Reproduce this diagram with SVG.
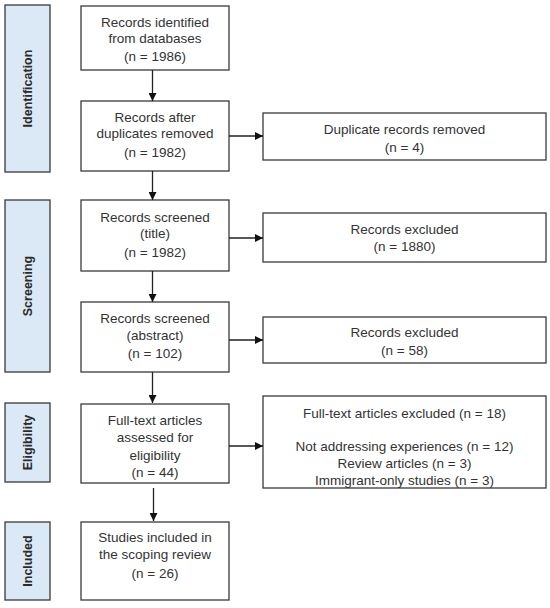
<svg xmlns="http://www.w3.org/2000/svg" width="550" height="608" viewBox="0 0 550 608">
<style>
.bg{fill:#ffffff}
.band{fill:#dbe9f7;stroke:#3a3a3a;stroke-width:1.3}
.box{fill:#ffffff;stroke:#3a3a3a;stroke-width:1.3}
.t{font-family:"Liberation Sans",Arial,sans-serif;font-size:13.5px;fill:#333333;text-anchor:middle}
.bl{font-family:"Liberation Sans",Arial,sans-serif;font-size:12.5px;font-weight:bold;fill:#2b2b2b;text-anchor:middle}
.c{stroke:#222222;stroke-width:1.3;fill:none;marker-end:url(#ah)}
</style>
<defs>
<marker id="ah" viewBox="0 0 10 10" refX="10" refY="5" markerWidth="8" markerHeight="8" markerUnits="userSpaceOnUse" orient="auto">
<path d="M0,0 L10,5 L0,10 Z" fill="#111111"/>
</marker>
</defs>
<rect class="bg" x="0" y="0" width="550" height="608"/>
<g id="band-identification">
<rect class="band" x="5" y="5" width="45" height="167"/>
<text class="bl" transform="translate(31.5,88.5) rotate(-90)">Identification</text>
</g>
<g id="band-screening">
<rect class="band" x="5" y="200" width="45" height="172"/>
<text class="bl" transform="translate(31.5,286) rotate(-90)">Screening</text>
</g>
<g id="band-eligibility">
<rect class="band" x="5" y="403" width="45" height="79"/>
<text class="bl" transform="translate(31.5,442.5) rotate(-90)">Eligibility</text>
</g>
<g id="band-included">
<rect class="band" x="5" y="522" width="45" height="78"/>
<text class="bl" transform="translate(31.5,561) rotate(-90)">Included</text>
</g>
<g id="n1">
<rect class="box" x="81" y="6" width="148" height="64"/>
<text class="t" x="155" y="27">Records identified</text>
<text class="t" x="155" y="43">from databases</text>
<text class="t" x="155" y="61">(n = 1986)</text>
</g>
<g id="n2">
<rect class="box" x="81" y="101" width="148" height="70"/>
<text class="t" x="155" y="122">Records after</text>
<text class="t" x="155" y="138">duplicates removed</text>
<text class="t" x="155" y="157">(n = 1982)</text>
</g>
<g id="n3">
<rect class="box" x="81" y="200" width="148" height="71"/>
<text class="t" x="155" y="222">Records screened</text>
<text class="t" x="155" y="238">(title)</text>
<text class="t" x="155" y="257">(n = 1982)</text>
</g>
<g id="n4">
<rect class="box" x="81" y="302" width="148" height="70"/>
<text class="t" x="155" y="323">Records screened</text>
<text class="t" x="155" y="340">(abstract)</text>
<text class="t" x="155" y="358">(n = 102)</text>
</g>
<g id="n5">
<rect class="box" x="81" y="404" width="148" height="79"/>
<text class="t" x="155" y="425">Full-text articles</text>
<text class="t" x="155" y="442">assessed for</text>
<text class="t" x="155" y="460">eligibility</text>
<text class="t" x="155" y="477">(n = 44)</text>
</g>
<g id="n6">
<rect class="box" x="81" y="522" width="148" height="78"/>
<text class="t" x="155" y="542">Studies included in</text>
<text class="t" x="155" y="559">the scoping review</text>
<text class="t" x="155" y="578">(n = 26)</text>
</g>
<g id="r1">
<rect class="box" x="263" y="113" width="283" height="47"/>
<text class="t" x="404.5" y="134">Duplicate records removed</text>
<text class="t" x="404.5" y="152">(n = 4)</text>
</g>
<g id="r2">
<rect class="box" x="263" y="213" width="283" height="49"/>
<text class="t" x="404.5" y="234">Records excluded</text>
<text class="t" x="404.5" y="251">(n = 1880)</text>
</g>
<g id="r3">
<rect class="box" x="263" y="317" width="283" height="46"/>
<text class="t" x="404.5" y="337">Records excluded</text>
<text class="t" x="404.5" y="355">(n = 58)</text>
</g>
<g id="r4">
<rect class="box" x="263" y="396" width="283" height="92"/>
<text class="t" x="404.5" y="418">Full-text articles excluded (n = 18)</text>
<text class="t" x="404.5" y="451">Not addressing experiences (n = 12)</text>
<text class="t" x="404.5" y="468">Review articles (n = 3)</text>
<text class="t" x="404.5" y="485">Immigrant-only studies (n = 3)</text>
</g>
<g id="connectors">
<line class="c" x1="152.5" y1="70" x2="152.5" y2="101"/>
<line class="c" x1="152.5" y1="171" x2="152.5" y2="200"/>
<line class="c" x1="152.5" y1="271" x2="152.5" y2="302"/>
<line class="c" x1="152.5" y1="372" x2="152.5" y2="403"/>
<line class="c" x1="153.5" y1="488" x2="153.5" y2="521"/>
<line class="c" x1="229" y1="136" x2="263" y2="136"/>
<line class="c" x1="229" y1="238" x2="263" y2="238"/>
<line class="c" x1="229" y1="340" x2="263" y2="340"/>
<line class="c" x1="229" y1="446" x2="263" y2="446"/>
</g>
</svg>
